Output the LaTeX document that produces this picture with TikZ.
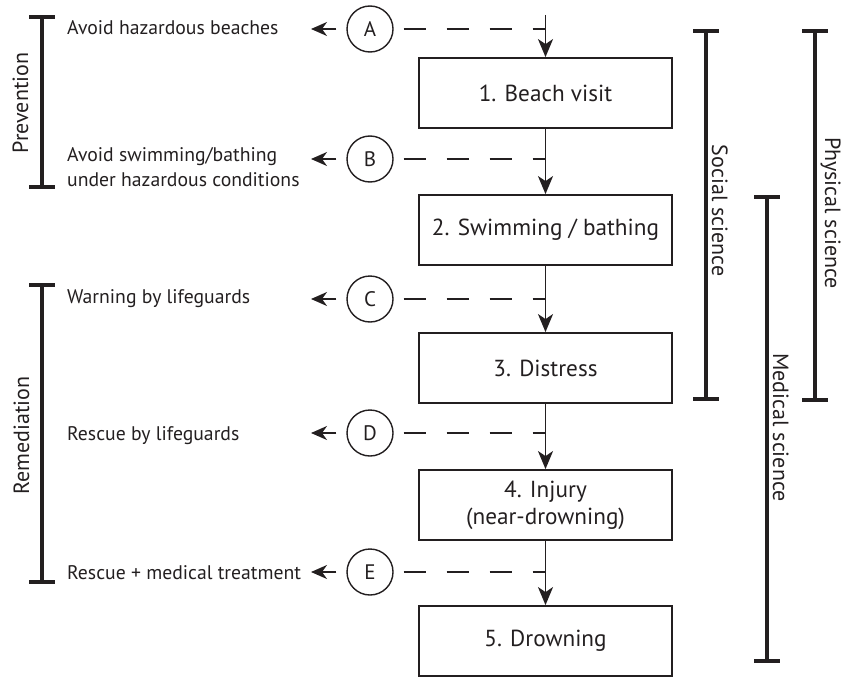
\documentclass[tikz,border=0pt]{standalone}
\usepackage{fontspec}
\setmainfont{PT Sans}
\usetikzlibrary{arrows.meta,calc}
\definecolor{ink}{RGB}{35,31,32}
\newcommand\vbrk[3]{\draw[brk] (#1-13,#2) -- (#1+13,#2) (#1,#2) -- (#1,#3) (#1-13,#3) -- (#1+13,#3);}
\begin{document}
\begin{tikzpicture}[x=1pt,y=-1pt,
  box/.style={draw=ink, line width=1.8pt, minimum width=253pt, minimum height=70pt, inner sep=0pt,
    font=\fontsize{23.2}{27}\selectfont, align=center, text=ink},
  circ/.style={circle, draw=ink, line width=1.4pt, minimum size=46pt, inner sep=0pt,
    font=\fontsize{21}{24}\selectfont, text=ink},
  lbl/.style={font=\fontsize{19.7}{24.5}\selectfont, text=ink, align=left, inner sep=0pt},
  side/.style={font=\fontsize{22}{22}\selectfont, text=ink, inner sep=0pt},
  flow/.style={draw=ink, line width=1.8pt, -{Stealth[length=18pt,width=15pt,inset=5pt]}},
  hint/.style={draw=ink, line width=1.8pt, -{Stealth[length=16pt,width=14pt,inset=5pt]}},
  dashline/.style={draw=ink, line width=1.8pt, dash pattern=on 22pt off 21pt},
  brk/.style={draw=ink, line width=4pt}]
\useasboundingbox (0,0) rectangle (848,677);

% main chain
\coordinate (top) at (545.5,15);
\node[box] (b1) at (545.5,93) {1. Beach visit};
\node[box] (b2) at (545.5,230) {2. Swimming / bathing};
\node[box] (b3) at (545.5,368) {3. Distress};
\node[box] (b4) at (545.5,505) {4. Injury\\(near-drowning)};
\node[box] (b5) at (545.5,641) {5. Drowning};
\draw[flow] (top) -- (b1);
\draw[flow] (b1) -- (b2);
\draw[flow] (b2) -- (b3);
\draw[flow] (b3) -- (b4);
\draw[flow] (b4) -- (b5);

% intervention circles
\node[circ] (cA) at (370,29) {A};
\node[circ] (cB) at (370,159) {B};
\node[circ] (cC) at (370,299) {C};
\node[circ] (cD) at (370,433) {D};
\node[circ] (cE) at (370,572) {E};
\foreach \c in {A,B,C,D,E}{
  \draw[dashline] ([xshift=10pt]c\c.east) -- (c\c.east -| b1.center);
}
\coordinate (tA) at (311,29);
\coordinate (tB) at (311,159);
\coordinate (tC) at (311,299);
\coordinate (tD) at (311,433);
\coordinate (tE) at (311,572);
\foreach \c in {A,B,C,D,E}{
  \draw[hint] ([xshift=-10pt]c\c.west) -- (t\c);
}

% intervention texts
\node[lbl, anchor=base west] (xA) at (67,35) {Avoid hazardous beaches};
\node[lbl, anchor=west] (xB) at (67,167) {Avoid swimming/bathing\\under hazardous conditions};
\node[lbl, anchor=base west] (xC) at (67,303) {Warning by lifeguards};
\node[lbl, anchor=base west] (xD) at (67,440) {Rescue by lifeguards};
\node[lbl, anchor=base west] (xE) at (67,579) {Rescue + medical treatment};

% brackets
\vbrk{42}{17}{187}
\vbrk{42}{285}{582}
\vbrk{706}{31}{399}
\vbrk{815}{31}{400}
\vbrk{767}{197}{661}

\node[side, rotate=90, anchor=base] (lP) at (28,103) {Prevention};
\node[side, rotate=90, anchor=base] (lR) at (29,435.5) {Remediation};
\node[side, rotate=-90, anchor=base] (lS) at (712,210.5) {Social science};
\node[side, rotate=-90, anchor=base] (lPh) at (825,213) {Physical science};
\node[side, rotate=-90, anchor=base] (lM) at (773,427.5) {Medical science};
\end{tikzpicture}
\end{document}
